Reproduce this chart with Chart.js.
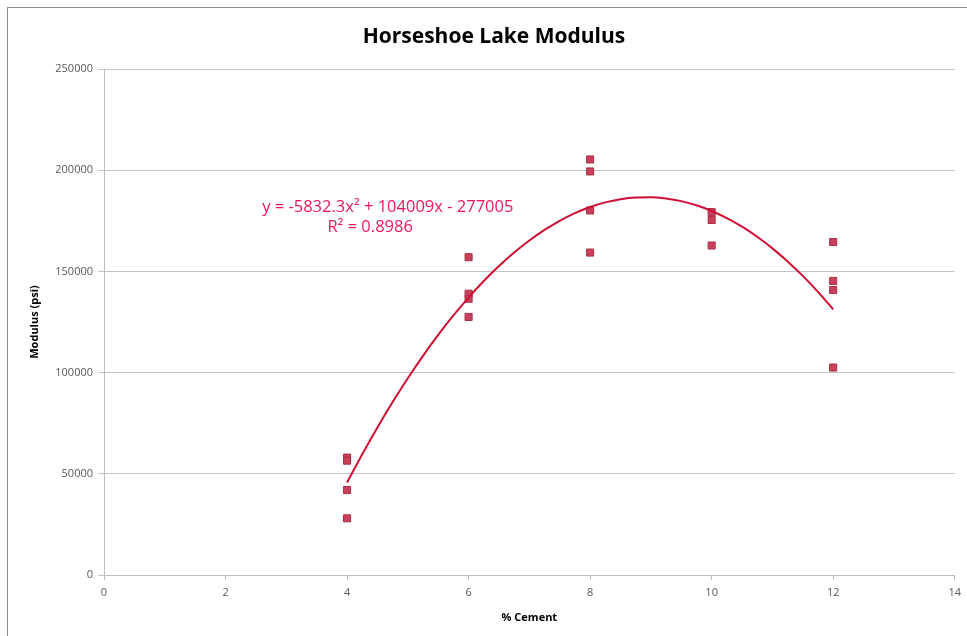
<!DOCTYPE html>
<html>
<head>
<meta charset="utf-8">
<script src="https://cdn.jsdelivr.net/npm/chart.js@4"></script>
<style>
  html, body { margin: 0; padding: 0; background: #fff; }
  #wrap { position: relative; width: 967px; height: 636px; }
</style>
</head>
<body>
<div id="wrap"><canvas id="c" width="967" height="636"></canvas></div>
<script>
// ---- data ----
const cementPct = [4, 4, 4, 4, 6, 6, 6, 6, 8, 8, 8, 8, 10, 10, 10, 12, 12, 12, 12];
const modulusPsi = [58000, 56500, 42000, 28000, 157000, 139000, 136500, 127500,
                    205300, 199400, 180100, 159300, 179300, 175400, 162800,
                    164500, 145300, 140800, 102500];
const trendCoef = [-5832.3, 104009, -277005]; // a, b, c from the chart's trendline label
const trendX = [4, 4.25, 4.5, 4.75, 5, 5.25, 5.5, 5.75, 6, 6.25, 6.5, 6.75, 7, 7.25, 7.5, 7.75,
                8, 8.25, 8.5, 8.75, 9, 9.25, 9.5, 9.75, 10, 10.25, 10.5, 10.75, 11, 11.25, 11.5, 11.75, 12];
const xTicks = [0, 2, 4, 6, 8, 10, 12, 14];
const yTicks = [0, 50000, 100000, 150000, 200000, 250000];
const titleText = 'Horseshoe Lake Modulus';
const xTitle = '% Cement';
const yTitle = 'Modulus (psi)';
const eqLine1 = 'y = -5832.3x² + 104009x - 277005';
const eqLine2 = 'R² = 0.8986';

const scatterPts = cementPct.map((x, i) => ({ x: x, y: modulusPsi[i] }));
const trendPts = trendX.map(x => ({ x: x, y: trendCoef[0] * x * x + trendCoef[1] * x + trendCoef[2] }));

const framePlugin = {
  id: 'frame',
  beforeDraw(chart) {
    const ctx = chart.ctx;
    ctx.save();
    ctx.fillStyle = '#fff';
    ctx.fillRect(0, 0, chart.width, chart.height);
    ctx.strokeStyle = '#8c8c8c';
    ctx.lineWidth = 1;
    ctx.strokeRect(7.5, 7.5, chart.width + 20, chart.height + 20);
    // title
    ctx.fillStyle = '#000';
    ctx.font = 'bold 21px "Open Sans", sans-serif';
    ctx.textAlign = 'center';
    ctx.textBaseline = 'middle';
    ctx.fillText(titleText, 494, 37);
    ctx.restore();
  },
  afterDatasetsDraw(chart) {
    const ctx = chart.ctx;
    const xs = chart.scales.x, ys = chart.scales.y;
    ctx.save();
    ctx.fillStyle = '#f0185a';
    ctx.font = '16.5px "Open Sans", sans-serif';
    ctx.textAlign = 'center';
    ctx.textBaseline = 'middle';
    ctx.fillText(eqLine1, xs.getPixelForValue(4.67), ys.getPixelForValue(181500));
    ctx.fillText(eqLine2, xs.getPixelForValue(4.38), ys.getPixelForValue(172000));
    ctx.restore();
  }
};

new Chart(document.getElementById('c'), {
  type: 'scatter',
  data: {
    datasets: [
      {
        label: 'Modulus',
        data: scatterPts,
        pointStyle: 'rect',
        pointRadius: 5,
        pointHoverRadius: 5,
        backgroundColor: '#c8405a',
        borderColor: '#a83048',
        borderWidth: 1,
        order: 2
      },
      {
        label: 'Poly. (Modulus)',
        data: trendPts,
        type: 'line',
        showLine: true,
        cubicInterpolationMode: 'monotone',
        borderColor: '#cc0f35',
        borderWidth: 2,
        pointRadius: 0,
        fill: false,
        order: 1
      }
    ]
  },
  options: {
    responsive: false,
    animation: false,
    events: [],
    layout: { padding: { left: 0, right: 10, top: 69, bottom: 0 } },
    plugins: {
      legend: { display: false },
      tooltip: { enabled: false },
      title: { display: false }
    },
    scales: {
      x: {
        type: 'linear',
        min: 0, max: 14,
        afterBuildTicks(scale) { scale.ticks = xTicks.map(v => ({ value: v })); },
        afterFit(scale) { scale.height = 61; },
        grid: { drawOnChartArea: false, drawTicks: true, tickLength: 5, color: '#bfbfbf' },
        border: { color: '#bfbfbf' },
        ticks: { color: '#595959', font: { family: '"Open Sans", sans-serif', size: 11 }, padding: 6, maxRotation: 0 },
        title: { display: true, text: xTitle, color: '#000', font: { family: '"Open Sans", sans-serif', size: 11, weight: 'bold' }, padding: { top: 4, bottom: 12 } }
      },
      y: {
        type: 'linear',
        min: 0, max: 250000,
        afterBuildTicks(scale) { scale.ticks = yTicks.map(v => ({ value: v })); },
        afterFit(scale) { scale.width = 104; },
        grid: { drawOnChartArea: true, drawTicks: true, tickLength: 6, color: '#c4c4c4' },
        border: { color: '#bfbfbf' },
        ticks: { color: '#595959', font: { family: '"Open Sans", sans-serif', size: 11 }, padding: 5,
                 callback: v => String(v) },
        title: { display: true, text: yTitle, color: '#000', font: { family: '"Open Sans", sans-serif', size: 11, weight: 'bold' }, padding: { top: 28, bottom: 0 } }
      }
    }
  },
  plugins: [framePlugin]
});
</script>
</body>
</html>
